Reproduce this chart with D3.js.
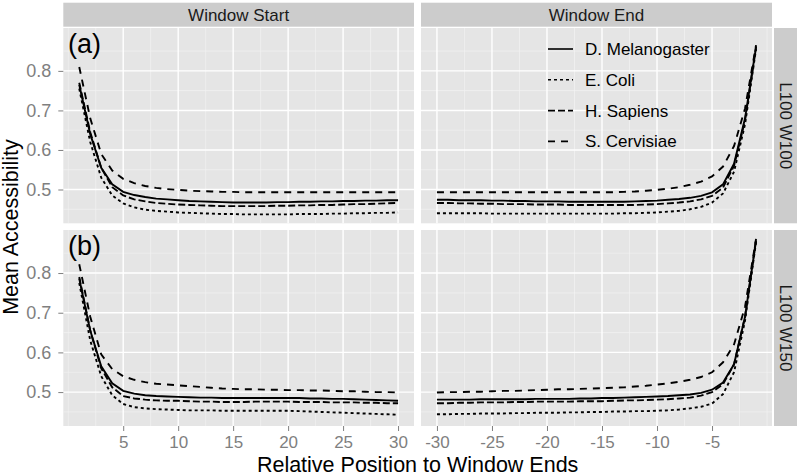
<!DOCTYPE html>
<html>
<head>
<meta charset="utf-8" />
<title>Mean Accessibility</title>
<script src="https://cdn.jsdelivr.net/npm/d3@7"></script>
<style>
  body { margin: 0; background: #fff; }
  text { font-family: "Liberation Sans", Arial, sans-serif; }
</style>
</head>
<body>
<svg width="800" height="476"></svg>
<script>
// series names, facets, ticks
const species = ["D. Melanogaster", "E. Coli", "H. Sapiens", "S. Cervisiae"];
const colLabels = ["Window Start", "Window End"];
const rowLabels = ["L100 W100", "L100 W150"];
const panelTags = ["(a)", "(b)"];
const startPos = [1,2,3,4,5,6,7,8,9,10,11,12,13,14,15,16,17,18,19,20,21,22,23,24,25,26,27,28,29,30];
const endPos = [-30,-29,-28,-27,-26,-25,-24,-23,-22,-21,-20,-19,-18,-17,-16,-15,-14,-13,-12,-11,-10,-9,-8,-7,-6,-5,-4,-3,-2,-1];
const startTicks = [5, 10, 15, 20, 25, 30];
const endTicks = [-30, -25, -20, -15, -10, -5];
const yTicks = [0.5, 0.6, 0.7, 0.8];

// L100 W100, window start
const w100StartMel = [0.765,0.640,0.555,0.513,0.494,0.486,0.481,0.477,0.475,0.473,0.471,0.470,0.469,0.468,0.467,0.467,0.467,0.467,0.468,0.468,0.469,0.469,0.470,0.470,0.471,0.471,0.472,0.472,0.473,0.473];
const w100StartColi = [0.755,0.620,0.530,0.485,0.465,0.455,0.449,0.446,0.444,0.442,0.441,0.440,0.439,0.438,0.438,0.437,0.437,0.437,0.437,0.437,0.438,0.438,0.438,0.439,0.439,0.440,0.440,0.441,0.441,0.442];
const w100StartSapiens = [0.770,0.645,0.555,0.506,0.485,0.475,0.470,0.466,0.464,0.462,0.461,0.460,0.459,0.458,0.458,0.458,0.458,0.458,0.459,0.459,0.460,0.460,0.461,0.461,0.462,0.463,0.463,0.464,0.465,0.466];
const w100StartCerv = [0.810,0.680,0.590,0.548,0.527,0.516,0.509,0.504,0.501,0.499,0.497,0.496,0.495,0.494,0.494,0.493,0.493,0.493,0.493,0.493,0.493,0.493,0.493,0.493,0.493,0.493,0.493,0.493,0.493,0.493];
// L100 W100, window end
const w100EndMel = [0.474,0.474,0.473,0.473,0.473,0.472,0.472,0.471,0.471,0.470,0.470,0.470,0.469,0.469,0.469,0.469,0.469,0.469,0.470,0.471,0.472,0.474,0.476,0.479,0.484,0.493,0.513,0.565,0.680,0.860];
const w100EndColi = [0.440,0.440,0.440,0.440,0.440,0.439,0.439,0.439,0.439,0.439,0.439,0.439,0.439,0.439,0.439,0.439,0.439,0.440,0.440,0.441,0.442,0.444,0.446,0.450,0.456,0.467,0.490,0.545,0.665,0.855];
const w100EndSapiens = [0.466,0.466,0.465,0.465,0.464,0.464,0.463,0.463,0.463,0.462,0.462,0.462,0.461,0.461,0.461,0.461,0.461,0.461,0.461,0.462,0.463,0.465,0.467,0.470,0.475,0.484,0.505,0.560,0.675,0.862];
const w100EndCerv = [0.493,0.493,0.493,0.493,0.493,0.493,0.493,0.493,0.493,0.493,0.493,0.493,0.493,0.493,0.493,0.493,0.493,0.494,0.495,0.497,0.499,0.502,0.506,0.512,0.520,0.533,0.558,0.610,0.705,0.865];
// L100 W150, window start
const w150StartMel = [0.786,0.655,0.565,0.522,0.503,0.496,0.492,0.490,0.489,0.488,0.487,0.486,0.486,0.485,0.485,0.485,0.485,0.485,0.485,0.485,0.485,0.484,0.484,0.483,0.483,0.482,0.481,0.480,0.479,0.478];
const w150StartColi = [0.775,0.630,0.540,0.492,0.470,0.462,0.459,0.457,0.456,0.455,0.454,0.454,0.454,0.453,0.453,0.453,0.453,0.453,0.453,0.453,0.452,0.451,0.450,0.449,0.448,0.447,0.446,0.445,0.444,0.443];
const w150StartSapiens = [0.790,0.655,0.560,0.512,0.490,0.484,0.481,0.479,0.478,0.478,0.477,0.476,0.476,0.475,0.475,0.475,0.476,0.476,0.476,0.476,0.475,0.475,0.475,0.474,0.474,0.474,0.473,0.473,0.472,0.472];
const w150StartCerv = [0.822,0.690,0.595,0.558,0.540,0.531,0.525,0.521,0.519,0.517,0.515,0.513,0.511,0.509,0.508,0.507,0.507,0.506,0.506,0.505,0.505,0.504,0.504,0.503,0.502,0.502,0.501,0.500,0.500,0.499];
// L100 W150, window end
const w150EndMel = [0.481,0.481,0.481,0.481,0.482,0.482,0.482,0.482,0.482,0.483,0.483,0.483,0.483,0.484,0.484,0.485,0.485,0.486,0.487,0.488,0.489,0.490,0.492,0.494,0.498,0.506,0.524,0.570,0.690,0.882];
const w150EndColi = [0.444,0.444,0.445,0.445,0.446,0.446,0.446,0.447,0.447,0.448,0.448,0.448,0.449,0.449,0.450,0.450,0.451,0.451,0.452,0.452,0.453,0.454,0.456,0.459,0.463,0.471,0.495,0.550,0.680,0.878];
const w150EndSapiens = [0.472,0.472,0.473,0.473,0.474,0.474,0.474,0.475,0.475,0.476,0.476,0.476,0.476,0.477,0.477,0.477,0.478,0.479,0.479,0.480,0.481,0.482,0.484,0.486,0.491,0.500,0.520,0.570,0.690,0.885];
const w150EndCerv = [0.499,0.500,0.500,0.501,0.501,0.502,0.503,0.503,0.504,0.505,0.506,0.507,0.507,0.508,0.509,0.510,0.511,0.512,0.514,0.516,0.519,0.522,0.526,0.531,0.538,0.550,0.575,0.620,0.715,0.886];

// facets: [row][col] -> one array per species
const facets = [
  [[w100StartMel, w100StartColi, w100StartSapiens, w100StartCerv],
   [w100EndMel, w100EndColi, w100EndSapiens, w100EndCerv]],
  [[w150StartMel, w150StartColi, w150StartSapiens, w150StartCerv],
   [w150EndMel, w150EndColi, w150EndSapiens, w150EndCerv]]
];
const positions = [startPos, endPos];
const xTicks = [startTicks, endTicks];

// line styles per species
const dashFor = [null, "3,3", "7,3", "7,6"];

const svg = d3.select("svg");

const render = () => {
  const colX = [[63.3, 414], [421, 772]];
  const rowY = [[28, 223.3], [230, 426]];
  const stripTop = [2.7, 26.7];
  const stripRight = [774, 797];

  // ggplot-like 5% expansion
  const expand = ([a, b]) => { const p = (b - a) * 0.05; return [a - p, b + p]; };

  const allVals = facets.flat(3);
  const yDomain = expand(d3.extent(allVals));

  const xScales = positions.map((p, c) =>
    d3.scaleLinear().domain(expand(d3.extent(p))).range(colX[c]));
  const yScales = rowY.map(r => d3.scaleLinear().domain(yDomain).range([r[1], r[0]]));

  const yMinor = [0.45, 0.55, 0.65, 0.75, 0.85];
  const xMinor = [
    [0, 2.5, 7.5, 12.5, 17.5, 22.5, 27.5],
    [-27.5, -22.5, -17.5, -12.5, -7.5, -2.5, 0]
  ];

  for (let r = 0; r < 2; r++) {
    for (let c = 0; c < 2; c++) {
      const x = xScales[c], y = yScales[r];
      const g = svg.append("g");
      g.append("rect")
        .attr("x", colX[c][0]).attr("y", rowY[r][0])
        .attr("width", colX[c][1] - colX[c][0])
        .attr("height", rowY[r][1] - rowY[r][0])
        .attr("fill", "#e5e5e5");

      // minor grid
      g.selectAll(".ymin").data(yMinor).enter().append("line")
        .attr("x1", colX[c][0]).attr("x2", colX[c][1])
        .attr("y1", d => y(d)).attr("y2", d => y(d))
        .attr("stroke", "#f2f2f2").attr("stroke-width", 0.7);
      g.selectAll(".xmin").data(xMinor[c]).enter().append("line")
        .attr("y1", rowY[r][0]).attr("y2", rowY[r][1])
        .attr("x1", d => x(d)).attr("x2", d => x(d))
        .attr("stroke", "#f2f2f2").attr("stroke-width", 0.7);
      // major grid
      g.selectAll(".ymaj").data(yTicks).enter().append("line")
        .attr("x1", colX[c][0]).attr("x2", colX[c][1])
        .attr("y1", d => y(d)).attr("y2", d => y(d))
        .attr("stroke", "#fff").attr("stroke-width", 1.4);
      g.selectAll(".xmaj").data(xTicks[c]).enter().append("line")
        .attr("y1", rowY[r][0]).attr("y2", rowY[r][1])
        .attr("x1", d => x(d)).attr("x2", d => x(d))
        .attr("stroke", "#fff").attr("stroke-width", 1.4);

      // curves
      const line = d3.line().x((d, i) => x(positions[c][i])).y(d => y(d));
      facets[r][c].forEach((vals, s) => {
        g.append("path")
          .attr("d", line(vals))
          .attr("fill", "none")
          .attr("stroke", "#000")
          .attr("stroke-width", 1.9)
          .attr("stroke-dasharray", dashFor[s]);
      });
    }

    // panel tag
    svg.append("text")
      .attr("x", 68).attr("y", rowY[r][0] + 24.5)
      .attr("font-size", 27).attr("fill", "#000")
      .text(panelTags[r]);

    // y axis
    const yAxis = svg.append("g")
      .attr("transform", `translate(${colX[0][0]},0)`)
      .call(d3.axisLeft(yScales[r]).tickValues(yTicks).tickSize(5).tickPadding(7).tickFormat(d3.format(".1f")));
    yAxis.select(".domain").remove();
    yAxis.selectAll(".tick line").attr("stroke", "#7f7f7f");
    yAxis.selectAll(".tick text").attr("fill", "#7f7f7f").attr("font-size", 18)
      .attr("font-family", "Liberation Sans, Arial, sans-serif");

    // right strip
    svg.append("rect")
      .attr("x", stripRight[0]).attr("y", rowY[r][0])
      .attr("width", stripRight[1] - stripRight[0])
      .attr("height", rowY[r][1] - rowY[r][0])
      .attr("fill", "#cccccc");
    const cy = (rowY[r][0] + rowY[r][1]) / 2;
    svg.append("text")
      .attr("transform", `translate(${(stripRight[0] + stripRight[1]) / 2},${cy}) rotate(90)`)
      .attr("text-anchor", "middle").attr("dy", "0.35em")
      .attr("font-size", 17).attr("fill", "#1a1a1a")
      .text(rowLabels[r]);
  }

  // top strips + x axes
  for (let c = 0; c < 2; c++) {
    svg.append("rect")
      .attr("x", colX[c][0]).attr("y", stripTop[0])
      .attr("width", colX[c][1] - colX[c][0])
      .attr("height", stripTop[1] - stripTop[0])
      .attr("fill", "#cccccc");
    svg.append("text")
      .attr("x", (colX[c][0] + colX[c][1]) / 2).attr("y", (stripTop[0] + stripTop[1]) / 2)
      .attr("dy", "0.35em").attr("text-anchor", "middle")
      .attr("font-size", 17).attr("fill", "#1a1a1a")
      .text(colLabels[c]);

    const xAxis = svg.append("g")
      .attr("transform", `translate(0,${rowY[1][1]})`)
      .call(d3.axisBottom(xScales[c]).tickValues(xTicks[c]).tickSize(5).tickPadding(5)
        .tickFormat(d => String(d)));
    xAxis.select(".domain").remove();
    xAxis.selectAll(".tick line").attr("stroke", "#7f7f7f");
    xAxis.selectAll(".tick text").attr("fill", "#7f7f7f").attr("font-size", 17)
      .attr("font-family", "Liberation Sans, Arial, sans-serif");
  }

  // axis titles
  svg.append("text")
    .attr("x", (colX[0][0] + colX[1][1]) / 2).attr("y", 472)
    .attr("text-anchor", "middle").attr("font-size", 21.5).attr("fill", "#000")
    .text("Relative Position to Window Ends");
  svg.append("text")
    .attr("transform", `translate(18,${(rowY[0][0] + rowY[1][1]) / 2}) rotate(-90)`)
    .attr("text-anchor", "middle").attr("font-size", 21.5).attr("fill", "#000")
    .text("Mean Accessibility");

  // legend inside top-right panel
  const legend = svg.append("g").attr("transform", "translate(548,49)");
  species.forEach((name, s) => {
    const row = legend.append("g").attr("transform", `translate(0,${s * 30.8})`);
    row.append("line")
      .attr("x1", 0).attr("x2", 25).attr("y1", 0).attr("y2", 0)
      .attr("stroke", "#000").attr("stroke-width", 1.6)
      .attr("stroke-dasharray", dashFor[s]);
    row.append("text")
      .attr("x", 37).attr("y", 0).attr("dy", "0.35em")
      .attr("font-size", 17).attr("fill", "#000")
      .text(name);
  });
};

render();
</script>
</body>
</html>
